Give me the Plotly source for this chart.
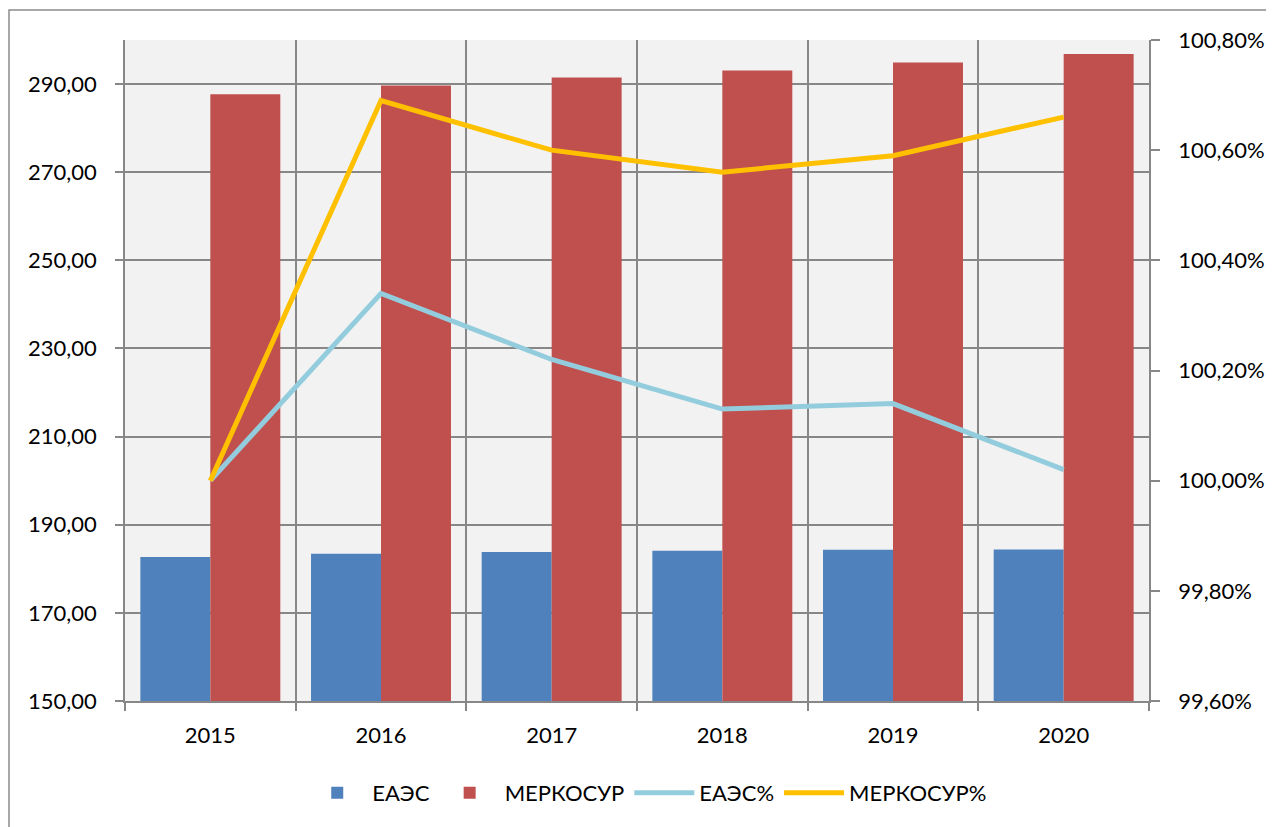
import plotly.graph_objects as go

years = ["2015", "2016", "2017", "2018", "2019", "2020"]
eaes = [182.7, 183.4, 183.8, 184.1, 184.3, 184.4]
mercosur = [287.7, 289.7, 291.5, 293.1, 294.9, 296.8]
eaes_pct = [100.00, 100.34, 100.22, 100.13, 100.14, 100.02]
mercosur_pct = [100.00, 100.69, 100.60, 100.56, 100.59, 100.66]

FONT = "Lato"
GRID = "#878787"

fig = go.Figure()
fig.add_trace(go.Bar(x=years, y=eaes, name="ЕАЭС", marker=dict(color="#4f81bd", line=dict(width=0))))
fig.add_trace(go.Bar(x=years, y=mercosur, name="МЕРКОСУР", marker=dict(color="#c0504d", line=dict(width=0))))
fig.add_trace(go.Scatter(x=years, y=eaes_pct, name="ЕАЭС%", mode="lines",
                         line=dict(color="#93cddd", width=5), yaxis="y2"))
fig.add_trace(go.Scatter(x=years, y=mercosur_pct, name="МЕРКОСУР%", mode="lines",
                         line=dict(color="#ffc000", width=5), yaxis="y2"))

# page has an 8px body margin: figure is placed at (8, 8)
fig.update_layout(
    width=1266, height=819,
    margin=dict(l=117, r=125, t=32, b=126, autoexpand=False),
    paper_bgcolor="white",
    plot_bgcolor="#f2f2f2",
    separators=", ",
    font=dict(family=FONT, size=22, color="black"),
    barmode="group", bargap=0.18, bargroupgap=0,
    showlegend=True,
    legend=dict(orientation="h", x=0.51, xanchor="center", y=-0.139, yanchor="middle",
                font=dict(size=22, family=FONT), itemwidth=60, traceorder="normal",
                bgcolor="rgba(0,0,0,0)"),
    xaxis=dict(type="category", tickson="boundaries", showgrid=True, gridcolor=GRID, gridwidth=1.5,
               showline=True, linecolor=GRID, linewidth=1.5,
               ticks="outside", ticklen=8, tickcolor=GRID, tickwidth=1.5,
               ticklabelstandoff=14, tickfont=dict(size=22, family=FONT)),
    yaxis=dict(range=[150, 300], tick0=150, dtick=20, tickformat=".2f",
               showgrid=True, gridcolor=GRID, gridwidth=1.5, zeroline=False,
               showline=True, linecolor=GRID, linewidth=1.5,
               ticks="outside", ticklen=8, tickcolor=GRID, tickwidth=1.5,
               ticklabelstandoff=14, tickfont=dict(size=22, family=FONT)),
    yaxis2=dict(overlaying="y", side="right", range=[99.6, 100.8], tick0=99.6, dtick=0.2,
                tickformat=".2f", ticksuffix="%", showgrid=False, zeroline=False,
                showline=True, linecolor=GRID, linewidth=1.5,
                ticks="outside", ticklen=9, tickcolor=GRID, tickwidth=1.5,
                ticklabelstandoff=14, tickfont=dict(size=22, family=FONT)),
)

# outer chart border (extends past the right and bottom edges of the picture)
fig.add_shape(type="rect", xref="paper", yref="paper",
              x0=(9 - 125) / 1024, x1=(1300 - 125) / 1024,
              y0=(701 - 850) / 661, y1=(701 - 10) / 661,
              line=dict(color="#8c8c8c", width=1.5), fillcolor="rgba(0,0,0,0)", layer="below")

fig.write_html("out.html")
